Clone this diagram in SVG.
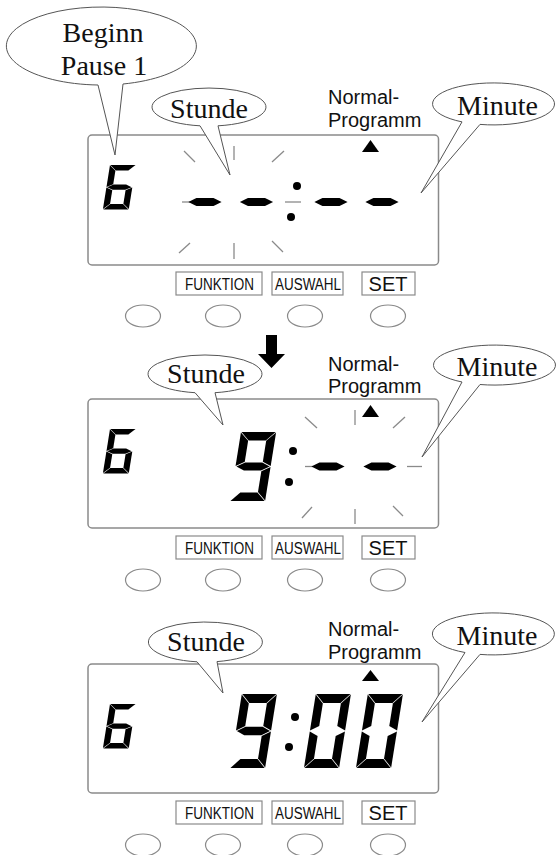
<svg xmlns="http://www.w3.org/2000/svg" xmlns:xlink="http://www.w3.org/1999/xlink" width="556" height="855" viewBox="0 0 556 855">
<style>
.panel{fill:#fff;stroke:#8a8a8a;stroke-width:1.5}
.btn{fill:#fff;stroke:#8a8a8a;stroke-width:1.2}
.knob{fill:#fff;stroke:#8a8a8a;stroke-width:1.2}
.blab{font-family:"Liberation Sans",Arial,sans-serif;font-size:16px;fill:#111;text-anchor:middle}
.set{font-family:"Liberation Sans",Arial,sans-serif;font-size:20px;fill:#111;text-anchor:middle}
.np{font-family:"Liberation Sans",Arial,sans-serif;font-size:20px;fill:#111}
.call{fill:#fff;stroke:#555;stroke-width:1}
.ct{font-family:"Liberation Serif","Times New Roman",serif;font-size:28px;fill:#111;text-anchor:middle}
.flash{stroke:#8a8a8a;stroke-width:1.3;fill:none}
.seg{fill:#000}
.tri{fill:#000}
</style>
<defs>
<polygon id="sa" class="seg" points="0.5,0 36.5,0 27.5,9 9.5,9"/>
<polygon id="sb" class="seg" points="37,0.5 37,36.5 28,32 28,9.5"/>
<polygon id="sc" class="seg" points="37,37.5 37,73.5 28,64.5 28,42"/>
<polygon id="sd" class="seg" points="0.5,74 9.5,65 27.5,65 36.5,74"/>
<polygon id="se" class="seg" points="0,37.5 9,42 9,64.5 0,73.5"/>
<polygon id="sf" class="seg" points="0,0.5 9,9.5 9,32 0,36.5"/>
<polygon id="sg" class="seg" points="1,37 9.5,32.7 27.5,32.7 36,37 27.5,41.3 9.5,41.3"/>
<g id="d6"><use href="#sa"/><use href="#sf"/><use href="#sg"/><use href="#se"/><use href="#sd"/><use href="#sc"/></g>
<g id="d9"><use href="#sa"/><use href="#sb"/><use href="#sf"/><use href="#sg"/><use href="#sc"/><use href="#sd"/></g>
<g id="d0"><use href="#sa"/><use href="#sb"/><use href="#sc"/><use href="#sd"/><use href="#se"/><use href="#sf"/></g>
</defs>
<rect width="556" height="855" fill="#fff"/>

<!-- Panel 1 -->
<g id="panel1">
<rect class="panel" x="88" y="135" width="350.5" height="130" rx="4"/>
<use href="#d6" transform="translate(110,165) skewX(-9.1) scale(0.7,0.6)"/>
<g class="flash">
<line x1="184" y1="151" x2="195" y2="162"/>
<line x1="234" y1="146" x2="234" y2="160"/>
<line x1="272" y1="162" x2="284" y2="151"/>
<line x1="179" y1="253" x2="190" y2="243"/>
<line x1="234" y1="243" x2="234" y2="259"/>
<line x1="272" y1="241" x2="283" y2="252"/>
<line x1="182" y1="202" x2="192" y2="202"/>
<line x1="285" y1="202" x2="301" y2="202"/>
</g>
<use href="#sg" transform="translate(187.4,167.5) scale(0.95,0.932)"/>
<use href="#sg" transform="translate(238.9,167.5) scale(0.95,0.932)"/>
<use href="#sg" transform="translate(313.4,167.5) scale(0.95,0.932)"/>
<use href="#sg" transform="translate(364.4,167.5) scale(0.95,0.932)"/>
<circle cx="297" cy="186" r="4"/>
<circle cx="291" cy="217" r="4"/>
<polygon class="tri" points="362,152 379,152 370.5,140"/>
<text class="np" x="328" y="104">Normal-</text>
<text class="np" x="328" y="127">Programm</text>
<rect class="btn" x="176" y="272" width="86" height="23"/>
<rect class="btn" x="272" y="272" width="71" height="23"/>
<rect class="btn" x="362" y="272" width="53" height="23"/>
<text class="blab" x="219.5" y="290" textLength="69" lengthAdjust="spacingAndGlyphs">FUNKTION</text>
<text class="blab" x="308" y="290" textLength="66" lengthAdjust="spacingAndGlyphs">AUSWAHL</text>
<text class="set" x="388" y="291">SET</text>
<ellipse class="knob" cx="143" cy="316" rx="17.5" ry="11"/>
<ellipse class="knob" cx="223" cy="316" rx="17.5" ry="11"/>
<ellipse class="knob" cx="305" cy="316" rx="17.5" ry="11"/>
<ellipse class="knob" cx="388" cy="316" rx="17.5" ry="11"/>
</g>

<!-- Panel 2 -->
<g id="panel2">
<rect class="panel" x="88" y="399" width="350.5" height="129" rx="4"/>
<use href="#d6" transform="translate(110,429) skewX(-9.1) scale(0.7,0.6)"/>
<use href="#d9" transform="translate(241,432) skewX(-9.1) scale(0.95,0.932)"/>
<g class="flash">
<line x1="305" y1="417" x2="317" y2="428"/>
<line x1="355" y1="410" x2="355" y2="425"/>
<line x1="393" y1="428" x2="405" y2="417"/>
<line x1="302" y1="518" x2="312" y2="507"/>
<line x1="355" y1="509" x2="355" y2="524"/>
<line x1="393" y1="506" x2="403" y2="516"/>
<line x1="305" y1="466.5" x2="313" y2="466.5"/>
<line x1="407" y1="466.5" x2="422" y2="466.5"/>
</g>
<use href="#sg" transform="translate(310.4,432) scale(0.95,0.932)"/>
<use href="#sg" transform="translate(362.4,432) scale(0.95,0.932)"/>
<circle cx="293" cy="451" r="4"/>
<circle cx="289" cy="482" r="4"/>
<polygon class="tri" points="362,417 379,417 370.5,405"/>
<text class="np" x="328" y="371">Normal-</text>
<text class="np" x="328" y="393">Programm</text>
<rect class="btn" x="176" y="536" width="86" height="23"/>
<rect class="btn" x="272" y="536" width="71" height="23"/>
<rect class="btn" x="362" y="536" width="53" height="23"/>
<text class="blab" x="219.5" y="554" textLength="69" lengthAdjust="spacingAndGlyphs">FUNKTION</text>
<text class="blab" x="308" y="554" textLength="66" lengthAdjust="spacingAndGlyphs">AUSWAHL</text>
<text class="set" x="388" y="555">SET</text>
<ellipse class="knob" cx="143" cy="580" rx="17.5" ry="11"/>
<ellipse class="knob" cx="223" cy="580" rx="17.5" ry="11"/>
<ellipse class="knob" cx="305" cy="580" rx="17.5" ry="11"/>
<ellipse class="knob" cx="388" cy="580" rx="17.5" ry="11"/>
</g>

<!-- Panel 3 -->
<g id="panel3">
<rect class="panel" x="88" y="664" width="350.5" height="129" rx="4"/>
<use href="#d6" transform="translate(110,704) skewX(-9.1) scale(0.7,0.6)"/>
<use href="#d9" transform="translate(241.8,694) skewX(-9.1) scale(0.95,1)"/>
<use href="#d0" transform="translate(315.8,694) skewX(-9.1) scale(0.95,1)"/>
<use href="#d0" transform="translate(367.8,694) skewX(-9.1) scale(0.95,1)"/>
<circle cx="295" cy="717" r="4"/>
<circle cx="289" cy="747" r="4"/>
<polygon class="tri" points="362,681 379,681 370.5,670"/>
<text class="np" x="328" y="636">Normal-</text>
<text class="np" x="328" y="659">Programm</text>
<rect class="btn" x="176" y="801" width="86" height="23"/>
<rect class="btn" x="272" y="801" width="71" height="23"/>
<rect class="btn" x="362" y="801" width="53" height="23"/>
<text class="blab" x="219.5" y="819" textLength="69" lengthAdjust="spacingAndGlyphs">FUNKTION</text>
<text class="blab" x="308" y="819" textLength="66" lengthAdjust="spacingAndGlyphs">AUSWAHL</text>
<text class="set" x="388" y="820">SET</text>
<ellipse class="knob" cx="143" cy="845" rx="17.5" ry="11"/>
<ellipse class="knob" cx="223" cy="845" rx="17.5" ry="11"/>
<ellipse class="knob" cx="305" cy="845" rx="17.5" ry="11"/>
<ellipse class="knob" cx="388" cy="845" rx="17.5" ry="11"/>
</g>

<!-- Callouts -->
<g id="callout-beginn">
<path class="call" d="M98,85 A95,39 0 1 1 123,84 L115,155 Z"/>
<text class="ct" x="103" y="42">Beginn</text>
<text class="ct" x="104" y="75">Pause 1</text>
</g>
<g id="callout-stunde1">
<path class="call" d="M200,125.8 A57,19 0 1 1 218,125.8 L230,175 Z"/>
<text class="ct" x="209" y="118">Stunde</text>
</g>
<g id="callout-minute1">
<path class="call" d="M462,121.9 A61,21 0 1 1 480,124.4 L421,193 Z"/>
<text class="ct" x="497.5" y="115">Minute</text>
</g>
<g id="callout-stunde2">
<path class="call" d="M195,392.7 A57,19 0 1 1 215,392.7 L223,425 Z"/>
<text class="ct" x="206" y="383">Stunde</text>
</g>
<g id="callout-minute2">
<path class="call" d="M462,382 A61,20 0 1 1 480,384.5 L422,457 Z"/>
<text class="ct" x="497" y="376">Minute</text>
</g>
<g id="callout-stunde3">
<path class="call" d="M197,661.8 A57,20 0 1 1 217,661.6 L223,693 Z"/>
<text class="ct" x="206" y="651">Stunde</text>
</g>
<g id="callout-minute3">
<path class="call" d="M465,652.5 A61,21 0 1 1 480,654.4 L422,722 Z"/>
<text class="ct" x="497" y="645">Minute</text>
</g>

<!-- Connectors -->
<g id="connectors">
<polygon fill="#000" points="266,335 277,335 277,354 285,354 271.5,368 258,354 266,354"/>
</g>
</svg>
